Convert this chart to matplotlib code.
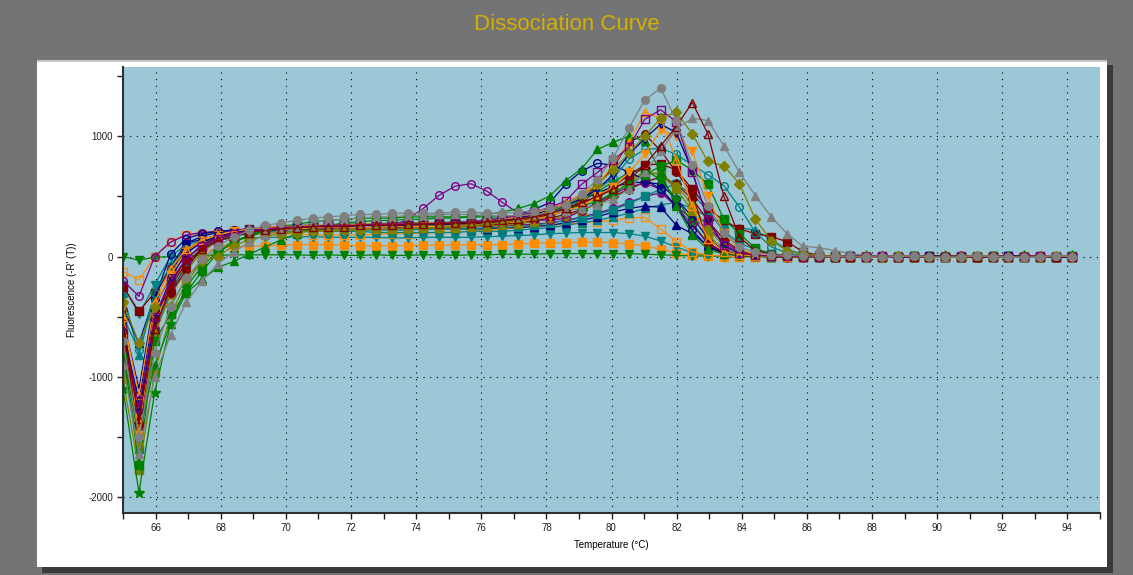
import matplotlib
matplotlib.use('Agg')
import matplotlib.pyplot as plt
from matplotlib.patches import Rectangle
from matplotlib.ticker import MultipleLocator

plt.rcParams['font.family'] = ['Liberation Sans', 'DejaVu Sans']
plt.rcParams['axes.unicode_minus'] = False

# temperature steps of the melt (deg C)
temps = [65.00, 65.49, 65.97, 66.46, 66.94, 67.43, 67.91, 68.40, 68.88, 69.37,
         69.86, 70.34, 70.83, 71.31, 71.80, 72.28, 72.77, 73.25, 73.74, 74.22,
         74.71, 75.20, 75.68, 76.17, 76.65, 77.14, 77.62, 78.11, 78.59, 79.08,
         79.57, 80.05, 80.54, 81.02, 81.51, 81.99, 82.48, 82.96, 83.45, 83.93,
         84.42, 84.91, 85.39, 85.88, 86.36, 86.85, 87.33, 87.82, 88.30, 88.79,
         89.28, 89.76, 90.25, 90.73, 91.22, 91.70, 92.19, 92.67, 93.16, 93.64,
         94.13]

# -R'(T) per well
gray_circle = [-700, -1500, -800, -420, -180, -20, 90, 160, 220, 260,
               280, 300, 320, 330, 340, 350, 350, 360, 360, 360, 360, 370, 370, 360, 360, 370, 380, 400,
               430, 520, 640, 820, 1070, 1300, 1400, 1130, 760, 420, 200, 80, 35, 15, 10, 5, 5,
               0, 5, 0, -5, 0, 5, 0, -5, 0, 5, 0, 0, -5, 0, 5, 0]
maroon_tri_open = [-600, -1350, -600, -250, -50, 60, 130, 170, 200, 220,
                   230, 240, 250, 250, 250, 260, 260, 260, 270, 270, 270, 280, 280, 290, 300, 310, 330, 360,
                   400, 450, 500, 560, 640, 760, 920, 1080, 1280, 1020, 500, 160, 50, 20, 10, 5, 5,
                   0, 0, 5, 0, -5, 0, 0, 5, 0, -5, 0, 0, 5, 0, 0, -5]
gray_tri = [-900, -1640, -1000, -650, -380, -200, -60, 40, 120, 180,
            220, 250, 280, 300, 310, 320, 330, 330, 340, 340, 350, 350, 350, 340, 340, 340, 350, 360,
            380, 400, 430, 480, 560, 700, 880, 1060, 1150, 1130, 920, 700, 505, 330, 190, 85, 75,
            50, 25, 10, 5, 0, 5, 0, -5, 0, 5, 0, 0, -5, 0, 5, 0]
olive_diamond = [-380, -720, -420, -410, -180, -40, 0, 90, 140, 170,
                 190, 200, 210, 210, 220, 220, 230, 230, 230, 240, 240, 250, 260, 270, 280, 300, 330, 380,
                 430, 500, 600, 720, 860, 1000, 1150, 1200, 1020, 790, 755, 605, 310, 130, 50, 20, 10,
                 5, 0, -5, 0, 5, 0, 0, -5, 0, 5, 0, -5, 0, 0, 5, 0]
purple_sq_open = [-640, -1250, -500, -200, -20, 90, 150, 190, 210, 230,
                  240, 250, 250, 260, 260, 260, 270, 270, 270, 270, 280, 280, 290, 300, 320, 340, 370, 410,
                  460, 600, 700, 800, 910, 1140, 1220, 1120, 700, 300, 100, 30, 10, 5, 5, 0, 0,
                  0, -5, 0, 5, 0, 0, -5, 0, 5, 0, 0, -5, 0, 5, 0, 0]
orange_tri_open = [-500, -1150, -380, -100, 60, 140, 180, 210, 230, 240,
                   250, 250, 260, 260, 260, 270, 270, 270, 270, 280, 280, 280, 290, 300, 310, 330, 360, 400,
                   450, 520, 600, 760, 950, 1200, 1150, 800, 420, 150, 40, 15, 5, 5, 0, 0, 0,
                   5, 0, 0, -5, 0, 5, 0, 0, -5, 0, 5, 0, 0, -5, 0, 5]
navy_tridown_open = [-560, -1300, -520, -180, 30, 120, 170, 200, 220, 230,
                     240, 240, 250, 250, 250, 260, 260, 260, 260, 270, 270, 270, 280, 290, 300, 320, 350, 390,
                     430, 480, 560, 680, 850, 980, 1100, 1030, 710, 300, 90, 25, 10, 5, 0, 0, 0,
                     0, 5, 0, 0, -5, 0, 5, 0, 0, -5, 0, 5, 0, 0, -5, 0]
green_tri = [-800, -1500, -900, -560, -300, -190, -90, -40, 20, 80,
             140, 190, 230, 260, 280, 290, 300, 300, 310, 310, 320, 320, 330, 350, 370, 400, 440, 505,
             630, 730, 890, 950, 1000, 960, 700, 420, 180, 60, 20, 10, 5, 0, 0, 0, 0,
             -5, 0, 5, 0, 0, -5, 0, 5, 0, 0, -5, 0, 5, 0, 0, -5]
navy_circle_open = [-520, -1100, -350, 20, 150, 190, 210, 220, 230, 240,
                    240, 250, 250, 250, 250, 260, 260, 260, 270, 270, 270, 280, 290, 300, 320, 350, 390, 450,
                    600, 710, 775, 760, 700, 640, 560, 420, 220, 80, 25, 10, 5, 0, 0, 0, 0,
                    0, 0, 5, 0, -5, 0, 0, 5, 0, -5, 0, 0, 5, 0, -5, 0]
maroon_circle = [-700, -1400, -440, -300, -110, 80, 150, 190, 220, 240,
                 240, 250, 250, 260, 260, 260, 260, 270, 270, 270, 270, 280, 280, 280, 290, 300, 320, 340,
                 380, 460, 600, 740, 950, 1016, 880, 700, 530, 105, 30, 10, 5, 0, 0, 0, 0,
                 5, 0, -5, 0, 0, 5, 0, -5, 0, 0, 5, 0, -5, 0, 0, 5]
green_sq = [-780, -1730, -700, -480, -300, -120, 30, 120, 180, 220,
            250, 270, 290, 300, 310, 320, 320, 320, 330, 330, 330, 330, 330, 330, 330, 340, 350, 360,
            400, 420, 460, 530, 600, 680, 750, 800, 720, 600, 310, 190, 70, 20, 10, 5, 0,
            0, 5, 0, -5, 0, 5, 0, 0, -5, 0, 5, 0, 0, -5, 0, 5]
teal_circle_open = [-500, -780, -300, -80, 60, 140, 180, 200, 220, 230,
                    230, 230, 240, 240, 240, 240, 250, 250, 250, 250, 260, 260, 260, 270, 280, 300, 330, 370,
                    410, 480, 560, 650, 810, 890, 900, 850, 760, 680, 590, 410, 200, 80, 30, 10, 5,
                    0, 0, -5, 0, 5, 0, 0, -5, 0, 5, 0, 0, -5, 0, 5, 0]
orange_tridown = [-420, -1480, -420, -150, 40, 130, 180, 210, 220, 230,
                  230, 230, 240, 240, 240, 240, 240, 250, 250, 250, 250, 260, 260, 270, 280, 290, 310, 340,
                  380, 420, 500, 580, 700, 850, 1050, 1000, 880, 500, 200, 60, 20, 5, 0, 0, 0,
                  -5, 0, 0, 5, 0, -5, 0, 0, 5, 0, -5, 0, 0, 5, 0, 0]
purple_circle = [-580, -1460, -600, -280, -80, 60, 140, 180, 200, 220,
                 230, 230, 240, 240, 240, 240, 240, 240, 240, 250, 250, 250, 250, 250, 260, 260, 270, 280,
                 300, 330, 360, 400, 450, 500, 530, 420, 310, 240, 120, 40, 10, 5, 0, 0, 0,
                 0, 5, 0, 0, -5, 0, 5, 0, 0, -5, 0, 5, 0, 0, -5, 0]
teal_tri = [-300, -820, -320, -100, 40, 120, 160, 180, 200, 210,
            210, 210, 210, 210, 210, 210, 200, 200, 200, 200, 200, 200, 210, 210, 210, 220, 230, 240,
            260, 280, 300, 330, 360, 400, 430, 450, 400, 330, 280, 240, 220, 140, 60, 20, 5,
            0, -5, 0, 5, 0, 0, -5, 0, 5, 0, 0, -5, 0, 5, 0, 0]
navy_tri = [-420, -720, -330, -80, 110, 170, 200, 210, 220, 230,
            230, 230, 230, 230, 230, 230, 230, 230, 230, 230, 230, 230, 230, 230, 240, 240, 250, 260,
            280, 300, 330, 370, 400, 420, 410, 260, 190, 90, 30, 10, 5, 0, 0, 0, 0,
            5, 0, 0, -5, 0, 5, 0, 0, -5, 0, 5, 0, 0, -5, 0, 5]
navy_circle = [-620, -1200, -420, -160, 116, 140, 180, 200, 210, 220,
               220, 230, 230, 230, 240, 240, 240, 240, 250, 250, 250, 260, 260, 270, 280, 300, 330, 370,
               420, 470, 530, 580, 610, 620, 600, 480, 330, 150, 50, 15, 5, 0, 0, 0, 0,
               0, 0, 5, 0, -5, 0, 0, 5, 0, -5, 0, 0, 5, 0, 0, -5]
orange_sq_open = [-125, -193, 0, 125, 180, 190, 200, 200, 200, 195,
                  190, 185, 180, 180, 180, 180, 185, 190, 190, 195, 200, 205, 210, 220, 230, 240, 250, 260,
                  270, 280, 290, 300, 320, 326, 229, 124, 41, 10, 5, 0, 0, 0, 0, 0, 0,
                  -5, 0, 5, 0, 0, -5, 0, 5, 0, 0, -5, 0, 5, 0, 0, -5]
orange_sq = [-900, -1550, -560, -200, -30, 40, 70, 80, 85, 90,
             95, 100, 100, 100, 95, 90, 90, 90, 90, 95, 95, 95, 100, 100, 100, 105, 110, 115,
             115, 120, 120, 115, 105, 90, 60, 30, 10, 5, 0, 0, 0, 0, 0, 0, 0,
             0, 5, 0, -5, 0, 0, 5, 0, -5, 0, 0, 5, 0, -5, 0, 0]
green_tridown = [0, -30, -5, 0, 5, 10, 10, 15, 15, 15,
                 15, 15, 10, 15, 10, 10, 15, 10, 10, 15, 15, 10, 15, 15, 20, 20, 20, 25,
                 25, 25, 25, 25, 25, 20, 15, 10, 5, 5, 0, 0, 0, 0, 0, 0, 0,
                 0, 0, -5, 0, 0, 5, 0, 0, -5, 0, 0, 5, 0, 0, -5, 0]
teal_tridown = [-240, -480, -235, 0, 100, 130, 140, 150, 155, 160,
                160, 165, 165, 160, 160, 160, 160, 155, 155, 160, 160, 160, 160, 165, 170, 175, 180, 190,
                195, 200, 200, 200, 190, 170, 130, 80, 30, 10, 5, 0, 0, 0, 0, 0, 0,
                5, 0, 0, -5, 0, 5, 0, 0, -5, 0, 5, 0, 0, -5, 0, 5]
purple_hump = [-200, -330, 0, 120, 180, 200, 210, 220, 230, 240,
               240, 240, 240, 240, 240, 240, 240, 250, 310, 400, 510, 585, 605, 545, 450, 360, 310, 300,
               320, 380, 450, 520, 580, 610, 560, 420, 260, 110, 40, 10, 5, 0, 0, 0, 0,
               0, -5, 0, 5, 0, 0, -5, 0, 5, 0, 0, -5, 0, 5, 0, 0]
green_star = [-1100, -1960, -1130, -560, -250, -80, 40, 120, 170, 210,
              240, 250, 260, 260, 270, 270, 270, 280, 280, 280, 280, 290, 290, 300, 310, 320, 340, 370,
              410, 470, 540, 620, 700, 720, 640, 480, 280, 110, 40, 10, 5, 0, 0, 0, 0,
              -5, 0, 5, 0, 0, -5, 0, 5, 0, 0, -5, 0, 5, 0, 0, 5]
olive_sq = [-1020, -1770, -970, -480, -220, -40, 60, 130, 170, 200,
            200, 210, 220, 220, 230, 230, 230, 230, 240, 240, 240, 240, 250, 250, 260, 270, 290, 310,
            340, 380, 440, 520, 620, 700, 680, 560, 380, 180, 60, 20, 5, 0, 0, 0, 0,
            5, 0, -5, 0, 5, 0, 0, -5, 0, 5, 0, 0, -5, 0, 5, 0]
maroon_sq = [-250, -456, -300, -100, 50, 130, 180, 210, 230, 240,
             250, 250, 250, 260, 260, 260, 260, 260, 260, 270, 270, 270, 270, 280, 290, 300, 320, 350,
             390, 440, 500, 580, 680, 760, 770, 720, 560, 400, 300, 230, 190, 166, 124, 40, 10,
             5, 0, 0, -5, 0, 5, 0, 0, -5, 0, 5, 0, 0, -5, 0, 0]
teal_sq = [-850, -1600, -640, -300, -60, 80, 140, 170, 190, 200,
           200, 210, 210, 210, 220, 220, 220, 220, 220, 230, 230, 230, 230, 240, 240, 250, 260, 280,
           300, 320, 350, 390, 440, 500, 560, 600, 520, 380, 210, 110, 60, 25, 10, 5, 0,
           0, 5, 0, 0, -5, 0, 5, 0, 0, -5, 0, 5, 0, 0, -5, 0]
olive_circle = [-690, -1560, -640, -320, -120, 40, 130, 170, 200, 220,
                220, 230, 230, 240, 240, 240, 240, 250, 250, 250, 250, 260, 260, 270, 280, 290, 310, 340,
                380, 430, 490, 560, 640, 700, 690, 590, 430, 230, 90, 30, 10, 5, 0, 0, 0,
                0, 0, 5, 0, -5, 0, 0, 5, 0, -5, 0, 0, 5, 0, -5, 0]
maroon_diamond = [-740, -1380, -520, -230, -20, 100, 160, 190, 210, 220,
                  220, 230, 230, 230, 240, 240, 240, 240, 250, 250, 250, 250, 260, 260, 270, 280, 300, 320,
                  350, 390, 440, 500, 560, 620, 660, 600, 480, 300, 140, 50, 15, 5, 0, 0, 0,
                  -5, 0, 0, 5, 0, -5, 0, 0, 5, 0, -5, 0, 0, 5, 0, 0]

NAVY = '#000080'
MAROON = '#800000'
GREEN = '#008000'
OLIVE = '#808000'
PURPLE = '#800080'
TEAL = '#008080'
GRAY = '#808080'
ORANGE = '#FF8C00'

# (values, colour, marker, filled)
series = [
    (orange_sq, ORANGE, 's', True),
    (green_tridown, GREEN, 'v', True),
    (teal_tridown, TEAL, 'v', True),
    (orange_sq_open, ORANGE, 's', False),
    (teal_tri, TEAL, '^', True),
    (navy_tri, NAVY, '^', True),
    (purple_circle, PURPLE, 'o', True),
    (teal_sq, TEAL, 's', True),
    (maroon_diamond, MAROON, 'D', True),
    (olive_circle, OLIVE, 'o', True),
    (navy_circle, NAVY, 'o', True),
    (olive_sq, OLIVE, 's', True),
    (green_star, GREEN, '*', True),
    (maroon_sq, MAROON, 's', True),
    (purple_hump, PURPLE, 'o', False),
    (navy_circle_open, NAVY, 'o', False),
    (green_sq, GREEN, 's', True),
    (teal_circle_open, TEAL, 'o', False),
    (maroon_circle, MAROON, 'o', True),
    (green_tri, GREEN, '^', True),
    (orange_tridown, ORANGE, 'v', True),
    (navy_tridown_open, NAVY, 'v', False),
    (orange_tri_open, ORANGE, '^', False),
    (purple_sq_open, PURPLE, 's', False),
    (olive_diamond, OLIVE, 'D', True),
    (gray_tri, GRAY, '^', True),
    (maroon_tri_open, MAROON, '^', False),
    (gray_circle, GRAY, 'o', True),
]

W, H = 1133, 575
fig = plt.figure(figsize=(W / 100, H / 100), dpi=100, facecolor='#747474')


def px_rect(x0, y0, x1, y1, color):
    # rectangle given in image pixels (origin top-left)
    fig.add_artist(Rectangle((x0 / W, 1 - y1 / H), (x1 - x0) / W, (y1 - y0) / H,
                             transform=fig.transFigure, facecolor=color,
                             edgecolor='none', zorder=0))


px_rect(42, 65, 1113, 573, '#3a3a3a')   # shadow
px_rect(37, 60, 1107, 567, 'white')      # panel
px_rect(37, 60, 1107, 61.5, '#c8c8c8')

fig.text(0.5, 1 - 24 / H, 'Dissociation Curve', color='#D4B000',
         fontsize=16, ha='center', va='center')

ax = fig.add_axes([123 / W, 1 - 513 / H, (1100 - 123) / W, (513 - 67) / H])
ax.set_facecolor('#9CC7D6')

for vals, color, marker, filled in series:
    ms = 8 if marker == '*' else 5.5
    if marker == 'D':
        ms = 5
    ax.plot(temps, vals, color=color, linewidth=0.9, marker=marker,
            markersize=ms, markeredgewidth=1.0, markeredgecolor=color,
            markerfacecolor=color if filled else 'none')

ax.set_xlim(65, 95)
ax.set_ylim(-2130, 1575)
ax.xaxis.set_major_locator(MultipleLocator(2))
ax.xaxis.set_minor_locator(MultipleLocator(1))
ax.yaxis.set_major_locator(MultipleLocator(1000))
ax.yaxis.set_minor_locator(MultipleLocator(500))
ax.set_xticks([t for t in range(66, 95, 2)])

ax.grid(True, which='major', color='black', linestyle=(0, (1, 5)), linewidth=0.8)
ax.set_axisbelow(True)

ax.tick_params(which='both', direction='out', length=4, width=1, colors='#202020',
               labelsize=7, pad=3)
for side in ['top', 'right']:
    ax.spines[side].set_visible(False)
for side in ['left', 'bottom']:
    ax.spines[side].set_color('#303030')
    ax.spines[side].set_linewidth(1.5)

ax.set_xlabel('Temperature (°C)', fontsize=7, labelpad=5)
ax.set_ylabel("Fluorescence (-R' (T))", fontsize=7, labelpad=8)

fig.savefig('out.png', dpi=100, facecolor=fig.get_facecolor())
